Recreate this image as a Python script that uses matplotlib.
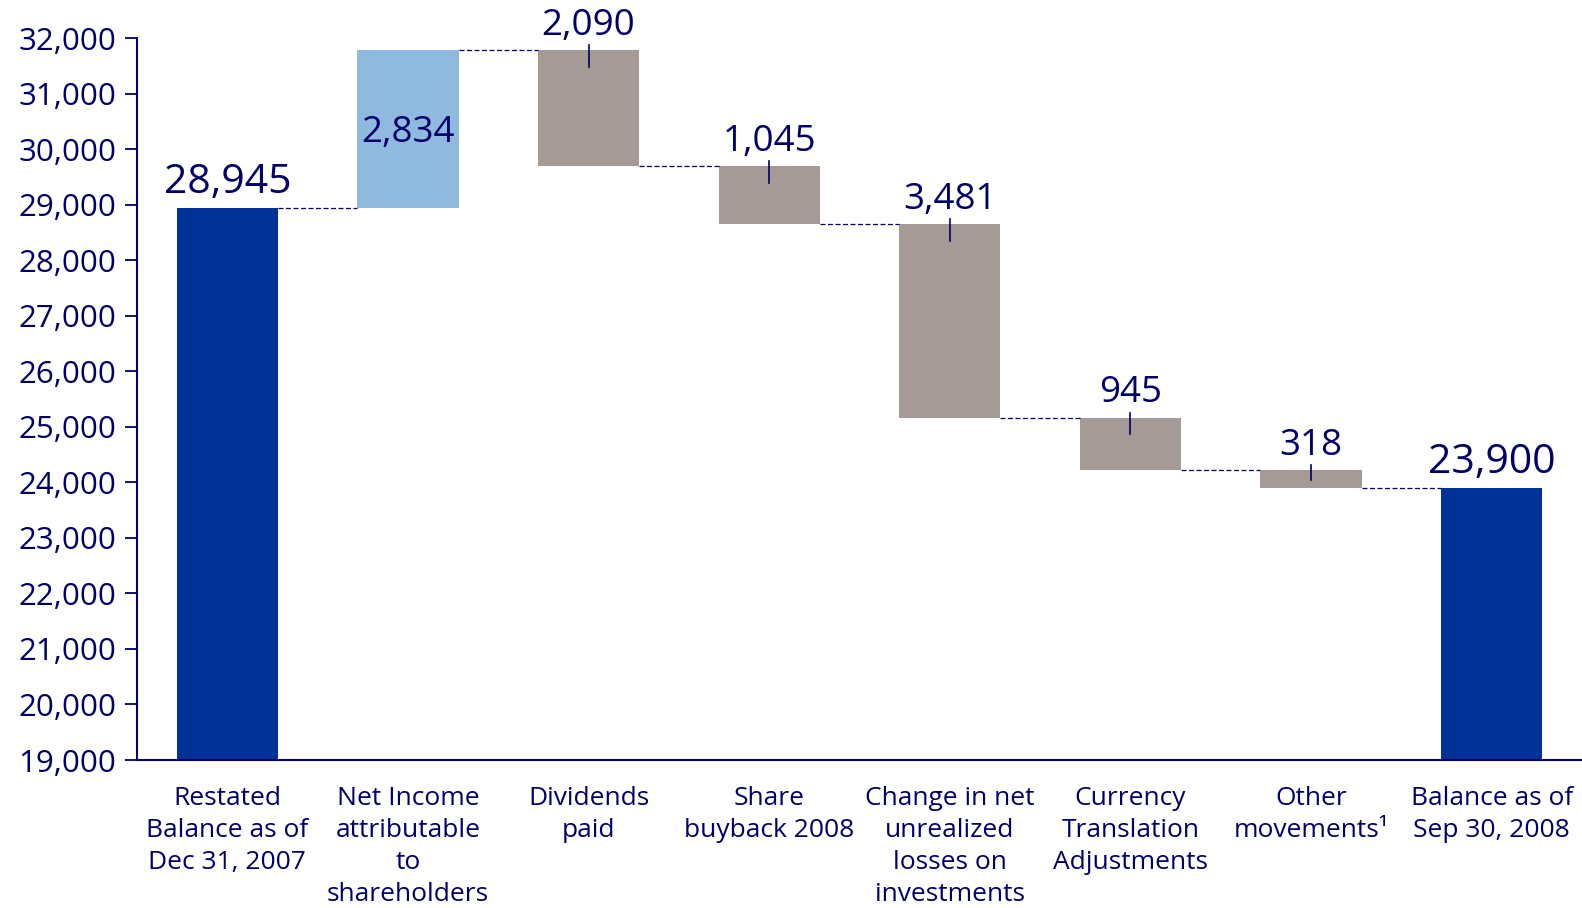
import matplotlib
matplotlib.use("Agg")
import matplotlib.pyplot as plt
import numpy as np

plt.rcParams['font.family'] = ['Open Sans', 'DejaVu Sans']

categories = ['Restated\nBalance as of\nDec 31, 2007',
              'Net Income\nattributable\nto\nshareholders',
              'Dividends\npaid',
              'Share\nbuyback 2008',
              'Change in net\nunrealized\nlosses on\ninvestments',
              'Currency\nTranslation\nAdjustments',
              'Other\nmovements\u00b9',
              'Balance as of\nSep 30, 2008']
start_balance = 28945
changes = [2834, -2090, -1045, -3481, -945, -318]
end_balance = 23900
yticks = np.arange(19000, 32001, 1000)

NAVY = '#000066'
DARK = '#003399'
LIGHT = '#8fbae0'
GREY = '#a59a96'
W = 0.56

fig = plt.figure(figsize=(15.82, 9.08), dpi=100)
ax = fig.add_axes([137/1582, 1-760/908, 1-137/1582, (760-38)/908])
ymin = 19000

# running level after each step
levels = [start_balance]
for c in changes:
	levels.append(levels[-1] + c)

x = np.arange(len(categories))
ax.bar(0, start_balance - ymin, bottom=ymin, width=W, color=DARK)
ax.bar(7, end_balance - ymin, bottom=ymin, width=W, color=DARK)
for i, c in enumerate(changes):
	lo = min(levels[i], levels[i+1])
	col = LIGHT if c > 0 else GREY
	ax.bar(i+1, abs(c), bottom=lo, width=W, color=col)

# dashed connectors
for i in range(len(levels)):
	ax.plot([i + W/2, i + 1 - W/2], [levels[i], levels[i]], color=NAVY,
		lw=0.9, ls=(0, (4, 2)))

# labels
ax.text(0, start_balance + 90, f'{start_balance:,}', ha='center', va='bottom',
	fontsize=29.5, color=NAVY)
ax.text(7, end_balance + 90, f'{end_balance:,}', ha='center', va='bottom',
	fontsize=29.5, color=NAVY)
for i, c in enumerate(changes):
	top = max(levels[i], levels[i+1])
	if c > 0:
		ax.text(i+1, top - c/2, f'{abs(c):,}', ha='center', va='center_baseline',
			fontsize=26.5, color=NAVY)
	else:
		ax.text(i+1, top + 120, f'{abs(c):,}', ha='center', va='bottom',
			fontsize=26.5, color=NAVY, clip_on=False)
		ln = min(300, 0.55*abs(c))
		ax.plot([i+1, i+1], [top + 90, top - ln], color=NAVY, lw=1.2,
			clip_on=False)

ax.set_xlim(-0.5, 7.5)
ax.set_ylim(ymin, 32000)
ax.set_yticks(yticks)
ax.set_yticklabels([f'{v:,}' for v in yticks], fontsize=22.5, color=NAVY)
ax.set_xticks(x)
ax.set_xticklabels(categories, fontsize=19, color=NAVY, linespacing=1.36)
ax.tick_params(axis='x', length=0, pad=19)
ax.tick_params(axis='y', length=9, width=1.3, color=NAVY, pad=6)
for s in ['top', 'right']:
	ax.spines[s].set_visible(False)
for s in ['left', 'bottom']:
	ax.spines[s].set_color(NAVY)
	ax.spines[s].set_linewidth(1.5)

fig.savefig('out.png', dpi=100)
